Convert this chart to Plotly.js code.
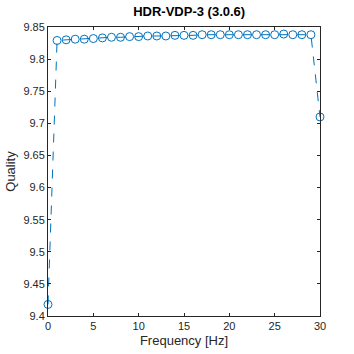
<!DOCTYPE html>
<html><head><meta charset="utf-8">
<script src="https://cdn.plot.ly/plotly-3.0.1.min.js"></script>
<style>html,body{margin:0;padding:0;background:#fff}#c{width:354px;height:354px}</style>
</head><body><div id="c"></div>
<script>
const frequency = [0,1,2,3,4,5,6,7,8,9,10,11,12,13,14,15,16,17,18,19,20,21,22,23,24,25,26,27,28,29,30];
const quality = [9.418,9.829,9.830,9.831,9.831,9.832,9.833,9.834,9.834,9.835,9.835,9.836,9.836,9.836,9.837,9.837,9.837,9.838,9.838,9.838,9.838,9.838,9.838,9.838,9.838,9.838,9.839,9.838,9.838,9.838,9.710];
const xTicks = [0,5,10,15,20,25,30];
const yTicks = [9.4,9.45,9.5,9.55,9.6,9.65,9.7,9.75,9.8,9.85];
const fam = '"Liberation Sans", Arial, sans-serif';
const font = {family:fam, size:11, color:'#262626'};
const labFont = {family:fam, size:13, color:'#262626'};
const axCommon = {showgrid:false, zeroline:false, showline:true, linecolor:'#262626', linewidth:1, mirror:'ticks', ticks:'inside', ticklen:3, tickcolor:'#262626', tickfont:font};
Plotly.newPlot('c', [{
  x: frequency, y: quality, type:'scatter', mode:'lines+markers', cliponaxis:false,
  line:{color:'#0072BD', width:1, dash:'dash'},
  marker:{symbol:'circle-open', size:8, color:'#0072BD', line:{width:1, color:'#0072BD'}}
}], {
  width:354, height:354,
  margin:{l:48, r:34, t:27, b:38},
  paper_bgcolor:'#fff', plot_bgcolor:'#fff',
  showlegend:false,
  title:{text:'<b>HDR-VDP-3 (3.0.6)</b>', font:{family:fam, size:13, color:'#000'}, x:0.519, xanchor:'center', xref:'paper', y:0.968, yanchor:'middle'},
  xaxis:Object.assign({}, axCommon, {range:[0,30], tickvals:xTicks, ticktext:xTicks.map(String), title:{text:'Frequency [Hz]', font:labFont, standoff:4}}),
  yaxis:Object.assign({}, axCommon, {range:[9.4,9.85], tickvals:yTicks, ticktext:yTicks.map(v=>String(v)), title:{text:'Quality', font:labFont, standoff:4}})
}, {staticPlot:true});
</script></body></html>
